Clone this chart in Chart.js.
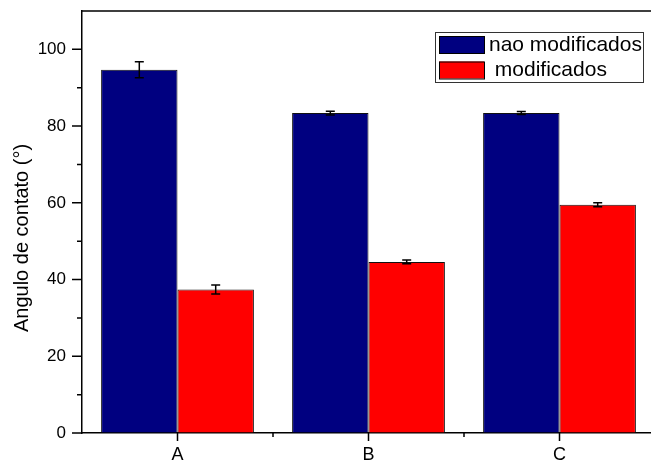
<!DOCTYPE html>
<html>
<head>
<meta charset="utf-8">
<script src="https://cdn.jsdelivr.net/npm/chart.js@4/dist/chart.umd.min.js"></script>
<style>
html,body{margin:0;padding:0;background:#fff;overflow:hidden;}
#wrap{width:660px;height:462px;}
</style>
</head>
<body>
<div id="wrap"><canvas id="c" width="660" height="462"></canvas></div>
<script>
const categories = ['A', 'B', 'C'];
const seriesNames = ['nao modificados', ' modificados'];
const naoModificados = [94.7, 83.4, 83.4];
const naoModificadosErr = [2.1, 0.5, 0.4];
const modificados = [37.4, 44.6, 59.5];
const modificadosErr = [1.2, 0.5, 0.5];
const yMajorTicks = [0, 20, 40, 60, 80, 100];
const yMinorTicks = [10, 30, 50, 70, 90];

const FONT = '"Liberation Sans", Arial, sans-serif';

const errorBars = {
  id: 'errorBars',
  afterDatasetsDraw(chart) {
    const ctx = chart.ctx, y = chart.scales.y;
    ctx.save();
    ctx.strokeStyle = '#000';
    ctx.lineWidth = 1.5;
    chart.data.datasets.forEach((ds, di) => {
      const meta = chart.getDatasetMeta(di);
      meta.data.forEach((bar, i) => {
        const v = ds.data[i], e = ds.err[i];
        const yt = y.getPixelForValue(v + e), yb = y.getPixelForValue(v - e);
        const x = bar.x, w = 4.5;
        ctx.beginPath();
        ctx.moveTo(x, yt); ctx.lineTo(x, yb);
        ctx.moveTo(x - w, yt); ctx.lineTo(x + w, yt);
        ctx.moveTo(x - w, yb); ctx.lineTo(x + w, yb);
        ctx.stroke();
      });
    });
    ctx.restore();
  }
};

const frame = {
  id: 'frame',
  afterDraw(chart) {
    const ctx = chart.ctx, a = chart.chartArea, x = chart.scales.x, y = chart.scales.y;
    ctx.save();
    ctx.strokeStyle = '#000';
    ctx.lineWidth = 1.5;
    ctx.beginPath();
    ctx.moveTo(a.left, a.top); ctx.lineTo(a.right, a.top);
    ctx.moveTo(a.right, a.top); ctx.lineTo(a.right, a.bottom);
    ctx.stroke();
    ctx.beginPath();
    yMajorTicks.forEach(v => { const p = y.getPixelForValue(v); ctx.moveTo(a.left - 10, p); ctx.lineTo(a.left, p); });
    yMinorTicks.forEach(v => { const p = y.getPixelForValue(v); ctx.moveTo(a.left - 5, p); ctx.lineTo(a.left, p); });
    categories.forEach((c, i) => { const p = x.getPixelForValue(i); ctx.moveTo(p, a.bottom); ctx.lineTo(p, a.bottom + 8); });
    for (let i = 0; i < categories.length - 1; i++) {
      const p = (x.getPixelForValue(i) + x.getPixelForValue(i + 1)) / 2;
      ctx.moveTo(p, a.bottom); ctx.lineTo(p, a.bottom + 4);
    }
    ctx.stroke();
    const t = chart.options.scales.y.title;
    ctx.fillStyle = '#000';
    ctx.font = '20px ' + FONT;
    ctx.translate(27.5, 238);
    ctx.rotate(-Math.PI / 2);
    ctx.textAlign = 'center';
    ctx.textBaseline = 'alphabetic';
    ctx.fillText(t.text, 0, 0);
    ctx.restore();
    ctx.save();
    const lx = a.right - 220, ly = a.top + 21, lw = 208, lh = 50;
    ctx.fillStyle = '#fff';
    ctx.fillRect(lx, ly, lw, lh);
    ctx.strokeStyle = '#333';
    ctx.lineWidth = 1;
    ctx.strokeRect(lx + 0.5, ly + 0.5, lw, lh);
    ctx.font = '21px ' + FONT;
    ctx.textBaseline = 'middle';
    ctx.textAlign = 'left';
    chart.data.datasets.forEach((ds, i) => {
      const sy = ly + 4 + i * 25.5;
      ctx.fillStyle = ds.backgroundColor;
      ctx.fillRect(lx + 4, sy, 45, 17);
      ctx.strokeStyle = '#000';
      ctx.strokeRect(lx + 4.5, sy + 0.5, 45, 17);
      ctx.fillStyle = '#000';
      ctx.fillText(ds.label, lx + 54, sy + 9);
    });
    ctx.restore();
  }
};

new Chart(document.getElementById('c'), {
  type: 'bar',
  data: {
    labels: categories,
    datasets: [
      { label: seriesNames[0], data: naoModificados, err: naoModificadosErr, backgroundColor: '#000080', borderColor: '#111', borderWidth: 1, categoryPercentage: 0.8, barPercentage: 1.0 },
      { label: seriesNames[1], data: modificados, err: modificadosErr, backgroundColor: '#ff0000', borderColor: '#111', borderWidth: 1, categoryPercentage: 0.8, barPercentage: 1.0 }
    ]
  },
  options: {
    responsive: false,
    animation: false,
    layout: { padding: { top: 11, right: 5, left: 0, bottom: 0 } },
    plugins: { legend: { display: false }, tooltip: { enabled: false } },
    scales: {
      x: {
        offset: true,
        grid: { display: true, drawOnChartArea: false, drawTicks: true, tickLength: 8, tickColor: 'rgba(0,0,0,0)' },
        border: { display: true, color: '#000', width: 1.5 },
        ticks: { color: '#000', font: { family: FONT, size: 18 }, padding: 3 },
        afterFit(s) { s.height = 29; s.paddingLeft = 0; s.paddingRight = 0; }
      },
      y: {
        min: 0, max: 110,
        title: { display: false, text: 'Angulo de contato (°)' },
        grid: { display: true, drawOnChartArea: false, drawTicks: true, tickLength: 10, tickColor: 'rgba(0,0,0,0)' },
        border: { display: true, color: '#000', width: 1.5 },
        ticks: { stepSize: 20, color: '#000', font: { family: FONT, size: 17 }, padding: 6,
          callback: v => (yMajorTicks.includes(v) ? String(v) : '') },
        afterFit(s) { s.width = 82; s.paddingTop = 0; s.paddingBottom = 0; }
      }
    }
  },
  plugins: [errorBars, frame]
});
</script>
</body>
</html>
